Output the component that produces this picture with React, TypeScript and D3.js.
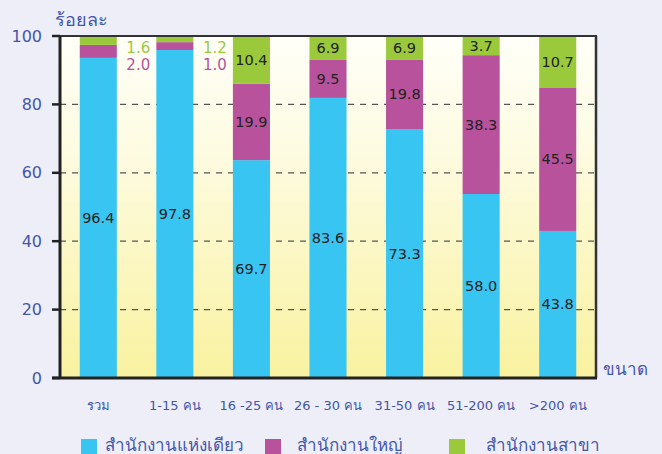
import React from "react";
import * as d3 from "d3";

const categories = ["รวม", "1-15 คน", "16 -25 คน", "26 - 30 คน", "31-50 คน", "51-200 คน", ">200 คน"];
const seriesNames = ["สำนักงานแห่งเดียว", "สำนักงานใหญ่", "สำนักงานสาขา"];
// values as printed on the chart
const singleLabels = [96.4, 97.8, 69.7, 83.6, 73.3, 58.0, 43.8];
const headLabels = [2.0, 1.0, 19.9, 9.5, 19.8, 38.3, 45.5];
const branchLabels = [1.6, 1.2, 10.4, 6.9, 6.9, 3.7, 10.7];
// segment heights as drawn in the picture
const singleDrawn = [93.6, 95.9, 63.7, 81.9, 72.8, 53.8, 43.0];
const headDrawn = [3.8, 2.3, 22.3, 11.1, 20.2, 40.6, 41.8];
const branchDrawn = [2.6, 1.8, 14.0, 7.0, 7.0, 5.6, 15.2];
const yTicks = [0, 20, 40, 60, 80, 100];

const colors = ["#38c5f2", "#b8529c", "#9aca3c"];
const W = 662, H = 454;
const left = 60, right = 596, top = 36, bottom = 378;
const font = "Tahoma, 'DejaVu Sans', 'Noto Sans', sans-serif";
const blueText = "#4456a8";

export default function App() {
  const x = d3.scaleBand<string>().domain(categories).range([left, right]).paddingInner(0.516).paddingOuter(0.258);
  const y = d3.scaleLinear().domain([0, 100]).range([bottom, top]);
  const rows = categories.map((c, i) => ({ cat: c, s0: singleDrawn[i], s1: headDrawn[i], s2: branchDrawn[i] }));
  const stack = d3.stack<any>().keys(["s0", "s1", "s2"])(rows);
  const labels = [singleLabels, headLabels, branchLabels];
  const bw = x.bandwidth();

  return (
    <svg width={W} height={H} style={{ position: "absolute", left: 0, top: 0, background: "#eeeef8" }}>
      <defs>
        <linearGradient id="bg" x1="0" y1="0" x2="0" y2="1">
          <stop offset="0%" stopColor="#fffff8" />
          <stop offset="35%" stopColor="#fdfbe0" />
          <stop offset="100%" stopColor="#f9f2a0" />
        </linearGradient>
      </defs>
      <rect x={0} y={0} width={W} height={H} fill="#eeeef8" />
      <rect x={left} y={top} width={right - left} height={bottom - top} fill="url(#bg)" />
      {yTicks.filter(t => t > 0 && t < 100).map(t => (
        <line key={t} x1={left} x2={right} y1={y(t)} y2={y(t)} stroke="#555" strokeWidth={1.3} strokeDasharray="6,6" />
      ))}
      {stack.map((layer, si) => layer.map((d, i) => (
        <rect key={si + "-" + i} x={x(categories[i])} width={bw} y={y(d[1])} height={y(d[0]) - y(d[1])} fill={colors[si]} />
      )))}
      {stack.map((layer, si) => layer.map((d, i) => {
        const outside = i < 2 && si > 0;
        const cx = x(categories[i])! + bw / 2;
        if (outside) {
          return (
            <text key={"l" + si + i} x={cx + 40} y={si === 2 ? 47.5 : 65} textAnchor="middle" dominantBaseline="central"
              fontFamily={font} fontSize={15} fill={colors[si]}>{labels[si][i].toFixed(1)}</text>
          );
        }
        return (
          <text key={"l" + si + i} x={cx} y={(y(d[0]) + y(d[1])) / 2} textAnchor="middle" dominantBaseline="central"
            fontFamily={font} fontSize={14.5} fill="#222">{labels[si][i].toFixed(1)}</text>
        );
      }))}
      {/* frame */}
      <line x1={left - 8} x2={right + 1} y1={top} y2={top} stroke="#333" strokeWidth={2} />
      <line x1={right} x2={right} y1={top} y2={bottom} stroke="#333" strokeWidth={2.5} />
      <line x1={left} x2={left} y1={top} y2={bottom + 1} stroke="#222" strokeWidth={3} />
      <line x1={left - 8} x2={right + 1} y1={bottom} y2={bottom} stroke="#222" strokeWidth={3} />
      {yTicks.map(t => (
        <g key={"t" + t}>
          <line x1={left - 8} x2={left} y1={y(t)} y2={y(t)} stroke="#222" strokeWidth={2.5} />
          <text x={42} y={y(t)} textAnchor="end" dominantBaseline="central" fontFamily={font} fontSize={16} fill={blueText}>{t}</text>
        </g>
      ))}
      <text x={55} y={19} dominantBaseline="central" fontFamily={font} fontSize={18} fill={blueText}>ร้อยละ</text>
      <text x={603} y={369} dominantBaseline="central" fontFamily={font} fontSize={17} fill={blueText}>ขนาด</text>
      {categories.map(c => (
        <text key={c} x={x(c)! + bw / 2} y={405} textAnchor="middle" dominantBaseline="central" fontFamily={font} fontSize={13} fill={blueText}>{c}</text>
      ))}
      {seriesNames.map((n, i) => {
        const lx = [81, 265, 449][i];
        const tx = [105, 297, 486][i];
        return (
          <g key={n}>
            <rect x={lx} y={439} width={16} height={16} fill={colors[i]} />
            <text x={tx} y={445} dominantBaseline="central" fontFamily={font} fontSize={17} fill={blueText}>{n}</text>
          </g>
        );
      })}
    </svg>
  );
}
